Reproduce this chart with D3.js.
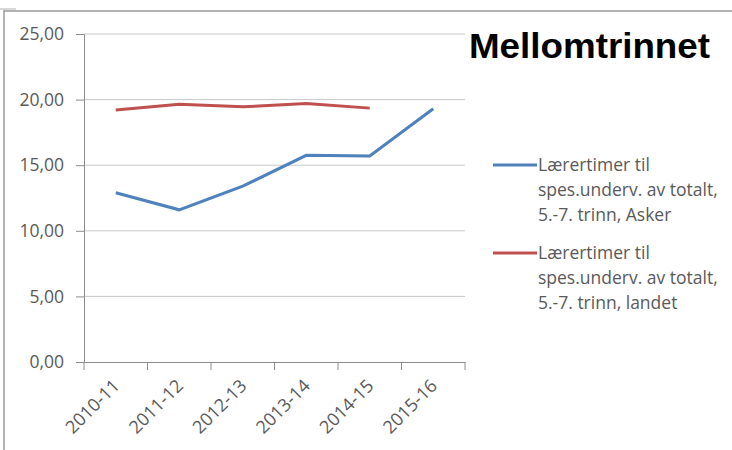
<!DOCTYPE html>
<html>
<head>
<meta charset="utf-8">
<script src="https://cdn.jsdelivr.net/npm/d3@7"></script>
<style>
  body { margin: 0; background: #fff; }
  svg { display: block; }
</style>
</head>
<body>
<div id="chart"></div>
<script>
var years = ["2010-11", "2011-12", "2012-13", "2013-14", "2014-15", "2015-16"];
var asker = [12.9, 11.6, 13.4, 15.75, 15.7, 19.3];
var landet = [19.2, 19.65, 19.45, 19.7, 19.35, null];
var yTicks = [0, 5, 10, 15, 20, 25];
var legendAsker = ["Lærertimer til", "spes.underv. av totalt,", "5.-7. trinn, Asker"];
var legendLandet = ["Lærertimer til", "spes.underv. av totalt,", "5.-7. trinn, landet"];

function drawChart(){
	var w = 732, h = 450;
	var pLeft = 84, pRight = 465, pTop = 34, pBottom = 362;
	var font = "'Open Sans', 'DejaVu Sans', sans-serif";

	var svg = d3.select("#chart").append("svg")
		.attr("width", w)
		.attr("height", h);

	// frame
	svg.append("line").attr("x1", 4).attr("x2", w).attr("y1", 11).attr("y2", 11)
		.attr("stroke", "#9a9a9a").attr("stroke-width", 1.5);
	svg.append("line").attr("x1", 4).attr("x2", 4).attr("y1", 10).attr("y2", h)
		.attr("stroke", "#9a9a9a").attr("stroke-width", 1.5);
	svg.append("line").attr("x1", 0).attr("x2", 16).attr("y1", 9).attr("y2", 9)
		.attr("stroke", "#b0b0b0").attr("stroke-width", 1);

	var x = d3.scaleBand().domain(years).range([pLeft, pRight]);
	var y = d3.scaleLinear().domain([0, 25]).range([pBottom, pTop]);

	// gridlines
	svg.append("g").selectAll("line").data(yTicks.filter(function(d){ return d > 0; }))
		.enter().append("line")
		.attr("x1", pLeft).attr("x2", pRight)
		.attr("y1", function(d){ return y(d); }).attr("y2", function(d){ return y(d); })
		.attr("stroke", "#c8c8c8").attr("stroke-width", 1);

	// y axis
	var yAxis = svg.append("g")
		.attr("transform", "translate(" + pLeft + ",0)")
		.call(d3.axisLeft(y).tickValues(yTicks).tickSize(8).tickPadding(12)
			.tickFormat(function(d){ return d3.format(".2f")(d).replace(".", ","); }));
	yAxis.select(".domain").attr("stroke", "#8c8c8c");
	yAxis.selectAll(".tick line").attr("stroke", "#8c8c8c");
	yAxis.selectAll("text").attr("fill", "#595959")
		.style("font-family", font).style("font-size", "17.5px");

	// x axis
	var xAxis = svg.append("g")
		.attr("transform", "translate(0," + pBottom + ")")
		.call(d3.axisBottom(x).tickSize(0).tickFormat(""));
	xAxis.select(".domain").attr("stroke", "#8c8c8c");
	svg.append("g").selectAll("line").data(years.concat(["end"]))
		.enter().append("line")
		.attr("x1", function(d, i){ return pLeft + i * x.bandwidth(); })
		.attr("x2", function(d, i){ return pLeft + i * x.bandwidth(); })
		.attr("y1", pBottom).attr("y2", pBottom + 8)
		.attr("stroke", "#8c8c8c");

	svg.append("g").selectAll("text").data(years)
		.enter().append("text")
		.attr("transform", function(d){
			return "translate(" + (x(d) + x.bandwidth() / 2 + 5) + "," + (pBottom + 25) + ") rotate(-45)";
		})
		.attr("text-anchor", "end")
		.attr("fill", "#595959")
		.style("font-family", font)
		.style("font-size", "18px")
		.text(function(d){ return d; });

	// lines
	var line = d3.line()
		.defined(function(d){ return d != null; })
		.x(function(d, i){ return x(years[i]) + x.bandwidth() / 2; })
		.y(function(d){ return y(d); });

	svg.append("path").datum(landet)
		.attr("d", line).attr("fill", "none")
		.attr("stroke", "#c0504d").attr("stroke-width", 3);
	svg.append("path").datum(asker)
		.attr("d", line).attr("fill", "none")
		.attr("stroke", "#4f81bd").attr("stroke-width", 3);

	// title
	svg.append("text")
		.attr("x", 469).attr("y", 58)
		.style("font-family", "'Liberation Sans', Arial, sans-serif")
		.style("font-weight", "bold").style("font-size", "35px")
		.attr("textLength", 241)
		.attr("lengthAdjust", "spacingAndGlyphs")
		.text("Mellomtrinnet");

	// legend
	var legend = [
		{ color: "#4f81bd", lines: legendAsker, y: 165 },
		{ color: "#c0504d", lines: legendLandet, y: 253 }
	];
	var lg = svg.append("g").selectAll("g").data(legend).enter().append("g");
	lg.append("line")
		.attr("x1", 493).attr("x2", 537)
		.attr("y1", function(d){ return d.y; }).attr("y2", function(d){ return d.y; })
		.attr("stroke", function(d){ return d.color; }).attr("stroke-width", 3);
	lg.each(function(d){
		var t = d3.select(this).append("text")
			.attr("fill", "#595959")
			.style("font-family", font)
			.style("font-size", "17.5px");
		d.lines.forEach(function(s, i){
			t.append("tspan").attr("x", 538).attr("y", d.y + 6 + i * 25).text(s);
		});
	});
}

window.onload = drawChart;
</script>
</body>
</html>
